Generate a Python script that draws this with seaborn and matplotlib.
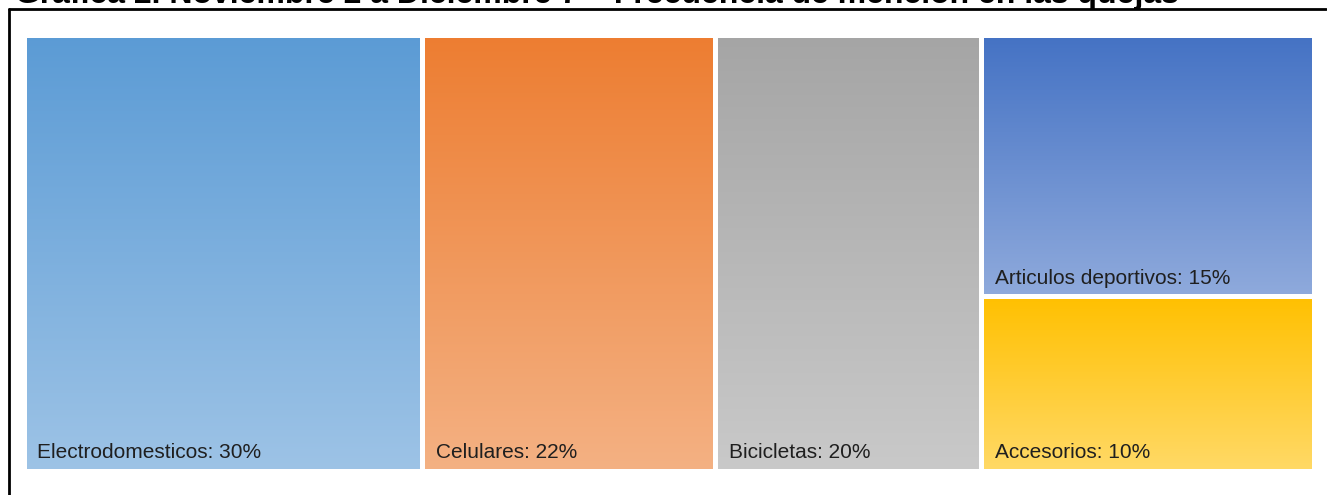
import numpy as np
import seaborn as sns
import matplotlib.pyplot as plt
from matplotlib.colors import to_rgb
from matplotlib.lines import Line2D

sns.set_style("white")
plt.rcParams['font.family'] = ['Liberation Sans', 'DejaVu Sans']

# data
categories = ['Electrodomesticos', 'Celulares', 'Bicicletas', 'Articulos deportivos', 'Accesorios']
values = [30, 22, 20, 15, 10]
columns = [[0], [1], [2], [3, 4]]  # treemap grouping (slice layout)
top_colors = ['#5B9BD5', '#ED7D31', '#A5A5A5', '#4472C4', '#FFC000']
bottom_colors = ['#9DC3E6', '#F4B183', '#C9C9C9', '#8FAADC', '#FFD966']
title = 'Gráfica 2. Noviembre 2 a Diciembre 7 – Frecuencia de mención en las quejas'

W, H = 1327, 495
fig = plt.figure(figsize=(W / 100, H / 100), dpi=100)
fig.patch.set_facecolor('white')

# tile area in pixels (expanded by half the white gap)
l, r, t, b = 23.5, 1313.5, 34.5, 470.5
ax = fig.add_axes([l / W, 1 - b / H, (r - l) / W, (b - t) / H])

total = sum(values)
x0 = 0
for col in columns:
    col_total = sum(values[i] for i in col)
    y0 = 0
    for i in col:
        h = values[i] / col_total
        bar = ax.bar(x0, h, width=col_total, bottom=y0, align='edge',
                     facecolor='none', edgecolor='white', linewidth=3.6, zorder=3)[0]
        c1, c2 = np.array(to_rgb(top_colors[i])), np.array(to_rgb(bottom_colors[i]))
        f = np.linspace(0, 1, 256)[:, None, None]
        grad = c1 * (1 - f) + c2 * f
        im = ax.imshow(grad, extent=(x0, x0 + col_total, y0 + h, y0), origin='upper',
                       aspect='auto', interpolation='bilinear', zorder=1)
        im.set_clip_path(bar)
        ax.annotate(f'{categories[i]}: {values[i]}%', xy=(x0, y0 + h), xytext=(13.5, 12),
                    textcoords='offset pixels', ha='left', va='baseline',
                    fontsize=15, color='#1f1f1f', zorder=4)
        y0 += h
    x0 += col_total

ax.set_xlim(0, total)
ax.set_ylim(1, 0)
ax.axis('off')

# frame (top and left edges of the cropped chart area)
fig.add_artist(Line2D([9 / W, 1326 / W], [1 - 8.5 / H, 1 - 8.5 / H], color='black', lw=2,
                      transform=fig.transFigure))
fig.add_artist(Line2D([9 / W, 9 / W], [1 - 8.5 / H, 0], color='black', lw=2,
                      transform=fig.transFigure))

# title, cut off at the top like the original
fig.text(15 / W, 1 - 3.5 / H, title, ha='left', va='baseline', fontsize=23, fontweight='bold',
         color='black')

fig.savefig('out.png', dpi=100)
